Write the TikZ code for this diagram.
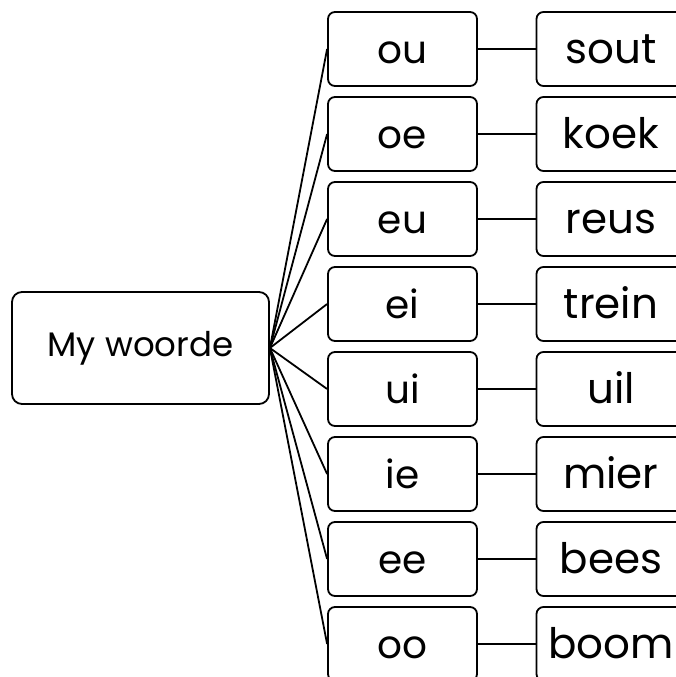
\documentclass[tikz,border=0pt]{standalone}
\usepackage{fontspec}
\setmainfont{Poppins}
\begin{document}
\begin{tikzpicture}[x=1pt,y=-1pt,
  box/.style={draw, line width=1.8pt, rounded corners=7pt, minimum width=149pt, minimum height=74pt, inner sep=0pt, text height=29pt, text depth=0pt, font=\fontsize{39}{44}\selectfont},
  wordbox/.style={box, font=\fontsize{42}{48}\selectfont},
  rootbox/.style={draw, line width=1.8pt, rounded corners=10pt, minimum width=257pt, minimum height=112pt, inner sep=0pt, text height=17pt, text depth=0pt, font=\fontsize{34}{38}\selectfont},
  link/.style={line width=1.8pt}]
\useasboundingbox (0,0) rectangle (676,677);
\node[rootbox] (root) at (140.5,348) {My woorde};
\foreach \v/\w [count=\i] in {ou/sout,oe/koek,eu/reus,ei/trein,ui/uil,ie/mier,ee/bees,oo/boom}{
  \node[box] (m\i) at (402.5,{49+85*(\i-1)}) {\v};
  \node[wordbox] (r\i) at (611,{49+85*(\i-1)}) {\w};
  \draw[link] (root.east) -- (m\i.west);
  \draw[link] (m\i.east) -- (r\i.west);
}
\end{tikzpicture}
\end{document}
